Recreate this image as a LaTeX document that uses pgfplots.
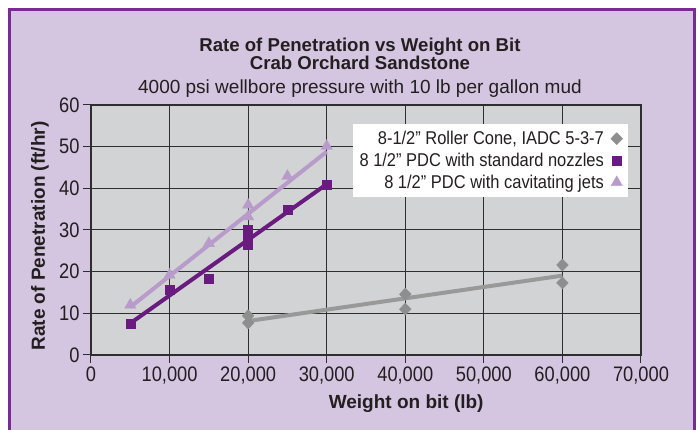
\documentclass[border=0pt]{standalone}
\usepackage{pgfplots}
\pgfplotsset{compat=1.18}
\usepackage{fontspec}
\setmainfont{Liberation Sans}
\newfontfamily\tickfont{Liberation Sans}[FakeStretch=0.87]
\newfontfamily\legfont{Liberation Sans}[FakeStretch=0.89]
\definecolor{bgl}{HTML}{D4C5E0}
\definecolor{frm}{HTML}{7A2A90}
\definecolor{plotbg}{HTML}{D1D3D4}
\definecolor{gr}{HTML}{8E8E8E}
\definecolor{grl}{HTML}{999999}
\definecolor{dp}{HTML}{6A1B80}
\definecolor{lp}{HTML}{B89ACB}
\definecolor{gline}{HTML}{2E2E2E}
\definecolor{txt}{HTML}{231F20}
\begin{document}
\begin{tikzpicture}[x=1pt,y=1pt]
\useasboundingbox (-91,-75) rectangle (608,355);
\fill[white] (-91,-75) rectangle (608,355);
\fill[bgl] (-81.5,-75) rectangle (603,345.5);
\draw[frm,line width=3pt] (-81.5,-75) -- (-81.5,345.5) -- (603,345.5) -- (603,-75);
\begin{axis}[
  at={(0,0)}, anchor=origin,
  scale only axis, width=550pt, height=250pt,
  clip=false,
  xmin=0, xmax=70000, ymin=0, ymax=60,
  xtick={0,10000,...,70000}, ytick={0,10,...,60},
  scaled x ticks=false,
  /pgf/number format/1000 sep={,},
  /pgf/number format/assume math mode=true,
  tick label style={font=\tickfont\fontsize{21}{21}\selectfont, text=txt},
  axis background/.style={fill=plotbg},
  grid=major, grid style={gline, line width=1pt},
  axis line style={gline, line width=1.6pt},
  tick style={gline, line width=1pt},
  tick align=outside, tick pos=left, major tick length=8pt,
  xlabel={\textbf{Weight on bit (lb)}},
  ylabel={\textbf{Rate of Penetration (ft/hr)}},
  label style={font=\fontsize{19}{19}\selectfont, text=txt},
  xlabel style={at={(rel axis cs:0.573,0)}, anchor=base, yshift=-54pt},
  ylabel style={at={([xshift=-51pt]rel axis cs:0,0.476)}, anchor=center},
  legend style={at={(0.976,0.924)}, anchor=north east, fill=white, draw=none,
    font=\legfont\fontsize{18.5}{18.5}\selectfont, text=txt, row sep=3pt,
    column sep=5pt, inner xsep=5pt, inner ysep=5pt},
  legend plot pos=right, legend cell align=right,
]
\addplot[only marks, mark=diamond*, mark size=6pt, mark options={xscale=1.3}, color=gr] coordinates {
  (20000,7.7) (20000,9.4) (40000,14.6) (40000,11.0) (60000,21.6) (60000,17.3)};
\addlegendentry{8-1/2” Roller Cone, IADC 5-3-7}
\addplot[only marks, mark=square*, mark size=4.5pt, color=dp] coordinates {
  (5000,7.4) (10000,15.6) (15000,18.4) (20000,26.5) (20000,28.3) (20000,30.1) (25000,34.9) (30000,40.9)};
\addlegendentry{8 1/2” PDC with standard nozzles}
\addplot[only marks, mark=triangle*, mark size=6.5pt, color=lp] coordinates {
  (5000,12.0) (10000,19.2) (15000,26.8) (20000,33.2) (20000,36.0) (25000,42.9) (30000,50.1)};
\addlegendentry{8 1/2” PDC with cavitating jets}
\addplot[grl, line width=4pt, forget plot] coordinates {(20000,8.15) (60000,19.05)};
\addplot[dp, line width=4pt, forget plot] coordinates {(5000,7.6) (30000,41.0)};
\addplot[lp, line width=4pt, forget plot] coordinates {(5000,11.5) (30000,48.8)};
\node[anchor=base, font=\bfseries\fontsize{18.6}{18.6}\selectfont, text=txt] at (rel axis cs:0.489,1) [yshift=53.5pt] {Rate of Penetration vs Weight on Bit};
\node[anchor=base, font=\bfseries\fontsize{18.6}{18.6}\selectfont, text=txt] at (rel axis cs:0.489,1) [yshift=35.5pt] {Crab Orchard Sandstone};
\node[anchor=base, font=\fontsize{19}{19}\selectfont, text=txt] at (rel axis cs:0.489,1) [yshift=11pt] {4000 psi wellbore pressure with 10 lb per gallon mud};
\end{axis}
\end{tikzpicture}
\end{document}
